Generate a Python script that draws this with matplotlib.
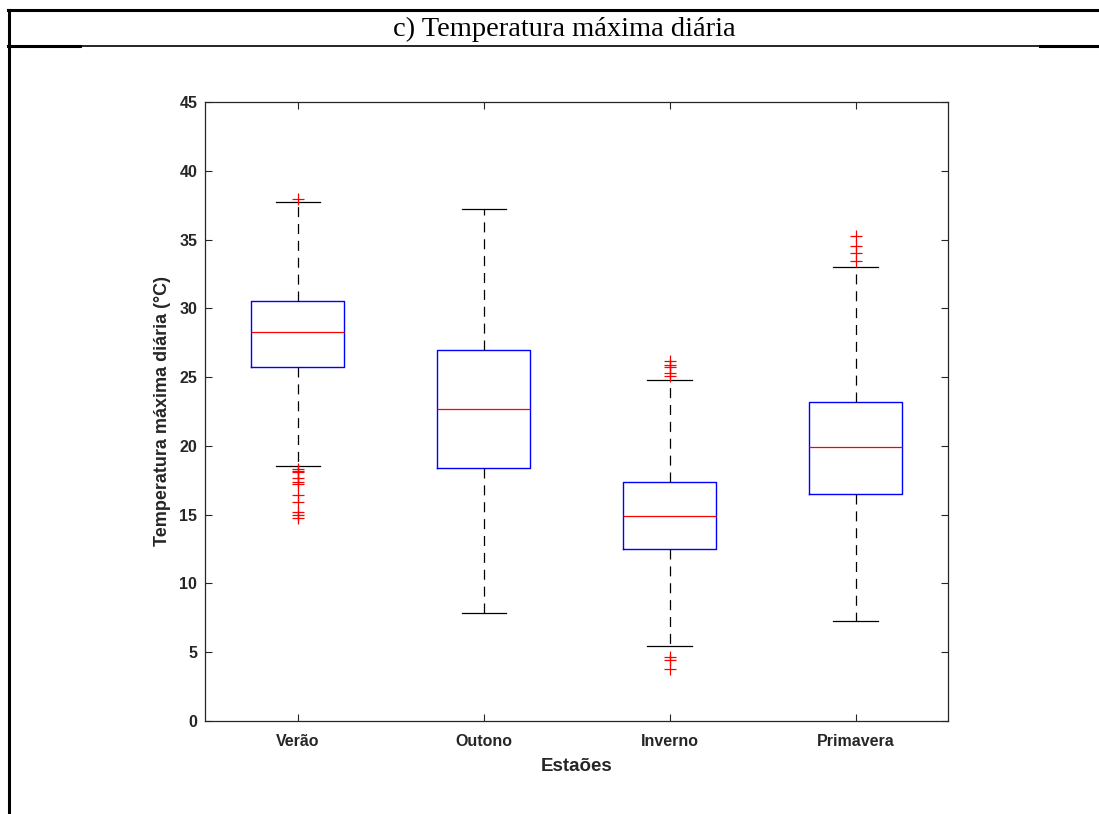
import matplotlib
matplotlib.use("Agg")
import matplotlib.pyplot as plt
from matplotlib.lines import Line2D

# Estatísticas (°C)
estacoes = ["Verão", "Outono", "Inverno", "Primavera"]
q1 = [25.75, 18.4, 12.5, 16.5]
mediana = [28.25, 22.7, 14.92, 19.9]
q3 = [30.55, 26.97, 17.4, 23.18]
bigode_inf = [18.55, 7.85, 5.45, 7.27]
bigode_sup = [37.75, 37.2, 24.8, 33.0]
outliers = [
    [37.95, 18.3, 18.2, 18.1, 17.7, 17.4, 17.2, 16.4, 15.9, 15.2, 14.95, 14.75],
    [],
    [26.2, 25.9, 25.7, 25.3, 25.05, 4.65, 4.45, 3.8],
    [35.25, 34.55, 34.05, 33.45],
]

TXT = "#262626"

fig = plt.figure(figsize=(10.99, 8.14), dpi=100)
ax = fig.add_axes([205 / 1099, 1 - 721 / 814, (948.5 - 205) / 1099, (721 - 102) / 814])

stats = []
for i, nome in enumerate(estacoes):
    stats.append({
        "label": nome, "q1": q1[i], "med": mediana[i], "q3": q3[i],
        "whislo": bigode_inf[i], "whishi": bigode_sup[i], "fliers": outliers[i],
    })

ax.bxp(
    stats, positions=range(1, 5), widths=0.5, showfliers=True,
    boxprops=dict(color="#0000FF", linewidth=1.0),
    medianprops=dict(color="#FF0000", linewidth=0.9),
    whiskerprops=dict(color="#000000", linewidth=0.9, linestyle=(0, (8, 5.5))),
    capprops=dict(color="#000000", linewidth=0.9),
    capwidths=0.24,
    flierprops=dict(marker="+", markeredgecolor="#FF0000", markersize=9, markeredgewidth=0.9, linestyle="none"),
)

ax.set_xlim(0.5, 4.5)
ax.set_ylim(0, 45)
ax.set_yticks(range(0, 46, 5))
ax.set_xticks(range(1, 5))
ax.set_xticklabels(estacoes)

ax.tick_params(direction="in", length=5, width=0.8, colors=TXT, top=True, right=True,
               labelsize=11.5)
ax.tick_params(axis="y", pad=5.5)
ax.tick_params(axis="x", pad=9)
for lbl in ax.get_xticklabels() + ax.get_yticklabels():
    lbl.set_fontweight("bold")
    lbl.set_fontfamily("Liberation Sans")
for sp in ax.spines.values():
    sp.set_color(TXT)
    sp.set_linewidth(0.9)

ax.set_xlabel("Estaões", fontsize=13.5, fontweight="bold", color=TXT, family="Liberation Sans", labelpad=7)
ax.set_ylabel("Temperatura máxima diária (°C)", fontsize=13, fontweight="bold", color=TXT,
              family="Liberation Sans", labelpad=6)

# Moldura da tabela
def px(x, y):
    return x / 1099, 1 - y / 814

for (x0, y0), (x1, y1), lw in [
    ((8, 10), (1099, 10), 2.2),
    ((9, 10), (9, 814), 2.2),
    ((8, 45.5), (80, 45.5), 2.2),
    ((80, 45.5), (1040, 45.5), 1.2),
    ((1040, 45.5), (1099, 45.5), 2.2),
]:
    a, b = px(x0, y0)
    c, d = px(x1, y1)
    fig.add_artist(Line2D([a, c], [b, d], color="black", linewidth=lw, transform=fig.transFigure))

fig.text(564 / 1099, 1 - 29 / 814, "c) Temperatura máxima diária", ha="center", va="center",
         fontsize=20.5, family="Liberation Serif", color="black")

fig.savefig("out.png", dpi=100, facecolor="white")
